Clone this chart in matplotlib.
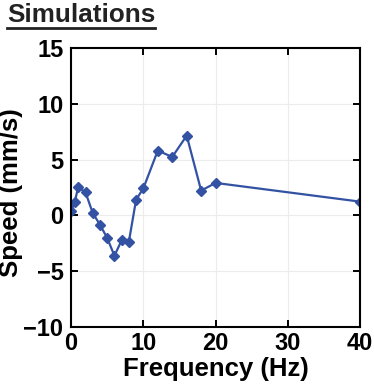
import matplotlib.pyplot as plt
from matplotlib.lines import Line2D

# frequency (Hz) and simulated speed (mm/s)
freq = [0, 0.5, 1, 2, 3, 4, 5, 6, 7, 8, 9, 10, 12, 14, 16, 18, 20, 40]
speed = [0.36, 1.2, 2.55, 2.06, 0.21, -0.84, -2.03, -3.62, -2.24, -2.36,
         1.41, 2.42, 5.81, 5.24, 7.15, 2.22, 2.91, 1.23]

x_ticks = [0, 10, 20, 30, 40]
y_ticks = [-10, -5, 0, 5, 10, 15]

plt.rcParams['font.family'] = ['Liberation Sans', 'DejaVu Sans']
plt.rcParams['font.weight'] = 'bold'

fig = plt.figure(figsize=(3.74, 3.85), dpi=100)
ax = fig.add_axes([0.19, 0.151, 0.773, 0.724])

ax.plot(freq, speed, color='#3352a3', lw=1.6, marker='D', ms=5)

ax.set_xlim(0, 40)
ax.set_ylim(-10, 15)
ax.set_xticks(x_ticks)
ax.set_yticks(y_ticks)
ax.grid(True, color='#ececec', lw=0.8)
ax.set_axisbelow(True)

ax.tick_params(direction='in', length=5, width=1.4, top=True, right=True,
               labelsize=17, pad=4)
ax.tick_params(axis='y', pad=5.5)
for s in ax.spines.values():
    s.set_linewidth(1.5)

ax.set_xlabel('Frequency (Hz)', fontsize=18.5, fontweight='bold', labelpad=1)
ax.set_ylabel('Speed (mm/s)', fontsize=18.5, fontweight='bold')
ax.yaxis.set_label_coords(-0.166, 0.482)

# underlined title in the top left corner
t = fig.text(0.019, 0.943, 'Simulations', fontsize=18.8, fontweight='bold',
             ha='left', va='baseline', color='#222222')
fig.canvas.draw()
bb = t.get_window_extent().transformed(fig.transFigure.inverted())
fig.add_artist(Line2D([bb.x0, bb.x1], [bb.y0 - 0.004, bb.y0 - 0.004],
                      transform=fig.transFigure, color='#222222', lw=2))

fig.savefig('out.png', dpi=100)
